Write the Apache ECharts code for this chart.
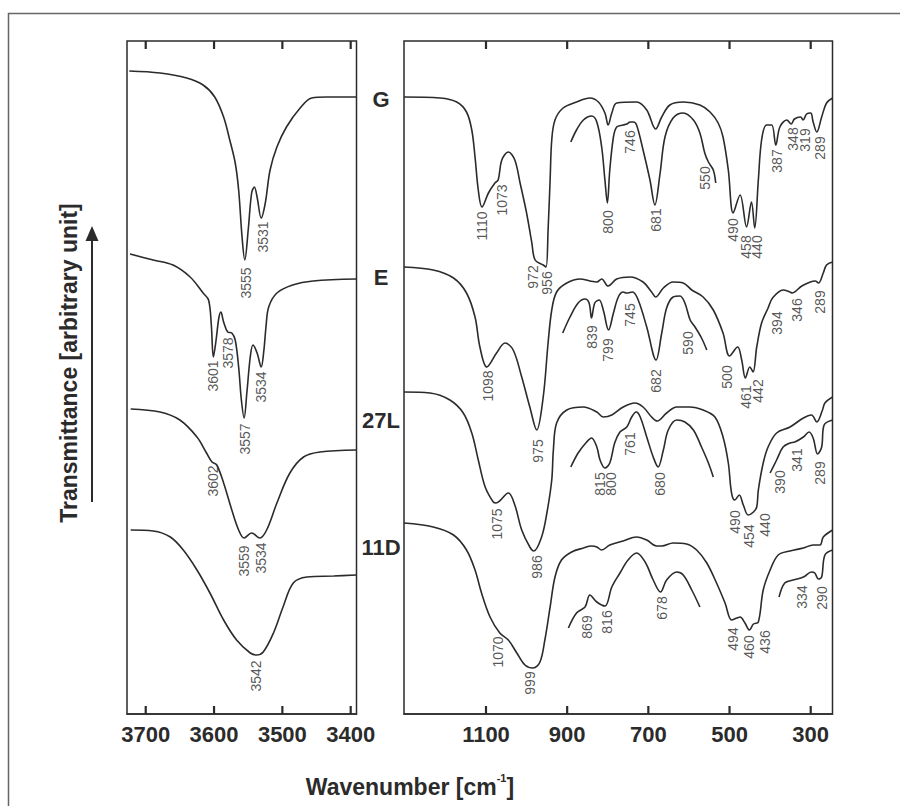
<!DOCTYPE html>
<html>
<head>
<meta charset="utf-8">
<script src="https://cdn.jsdelivr.net/npm/echarts@6/dist/echarts.min.js"></script>
<style>
html, body { margin: 0; padding: 0; background: #fff; }
#chart { width: 900px; height: 806px; }
</style>
</head>
<body>
<div id="chart"></div>
<script>
// IR spectra of the samples: OH stretching region (left) and 1300-250 cm-1 region (right)
// y = transmittance in arbitrary units, spectra are offset from each other

const samples = ['G', 'E', '27L', '11D'];
const ohTicks = [3700, 3600, 3500, 3400];
const fpTicks = [1100, 900, 700, 500, 300];

// OH region [wavenumber, transmittance]
const ohG = [[3724,659],[3679,657],[3640,652],[3616,645],[3599,633],[3586,613],[3577,590],[3569,567],[3564,540],[3559,493],[3555,470],[3550,500],[3545,537],[3541,543],[3537,533],[3531,512],[3525,527],[3518,560],[3508,583],[3494,603],[3474,622],[3457,632],[3435,633],[3392,633]];
const ohE = [[3723,476],[3689,470],[3660,465],[3635,453],[3616,437],[3608,430],[3604,405],[3601,373],[3597,390],[3593,412],[3590,418],[3586,408],[3580,398],[3574,397],[3569,390],[3564,363],[3560,330],[3556,312],[3552,337],[3547,373],[3543,385],[3537,377],[3531,363],[3527,380],[3524,403],[3520,423],[3508,437],[3485,445],[3455,449],[3392,451]];
const oh27L = [[3722,321],[3679,318],[3650,310],[3625,293],[3611,277],[3603,268],[3596,265],[3586,247],[3574,220],[3564,200],[3556,192],[3545,197],[3533,192],[3523,200],[3508,227],[3489,257],[3469,273],[3445,278],[3392,280]];
const oh11D = [[3722,200],[3689,199],[3664,193],[3645,180],[3625,160],[3606,137],[3586,110],[3567,90],[3547,77],[3538,75],[3528,78],[3513,97],[3499,123],[3484,147],[3464,153],[3425,154],[3392,155]];

// 1300-250 cm-1 region, full spectra
const fpG = [[1302,633],[1213,632],[1172,628],[1148,618],[1135,600],[1127,573],[1119,540],[1110,523],[1094,537],[1078,547],[1070,550],[1061,570],[1045,578],[1029,570],[1016,547],[1000,517],[987,487],[979,470],[959,465],[952,463],[947,500],[942,550],[938,590],[930,610],[910,622],[877,628],[844,632],[823,628],[807,617],[799,605],[790,617],[778,627],[729,628],[704,620],[682,601],[667,613],[647,625],[614,628],[573,625],[548,618],[528,607],[516,593],[503,560],[491,517],[474,535],[458,503],[446,528],[438,502],[429,550],[421,590],[409,605],[396,605],[386,585],[376,603],[359,610],[348,606],[340,611],[325,613],[319,610],[310,616],[300,617],[294,608],[285,598],[273,613],[261,627],[246,632]];
const fpE = [[1302,463],[1230,460],[1180,452],[1148,437],[1127,413],[1115,383],[1098,363],[1074,377],[1053,387],[1033,380],[1012,353],[992,323],[975,300],[959,333],[947,387],[938,420],[926,438],[901,447],[868,451],[844,449],[827,448],[815,451],[799,444],[778,451],[745,453],[713,448],[692,438],[682,433],[663,442],[639,448],[614,447],[593,440],[565,433],[540,420],[516,397],[500,374],[480,383],[470,370],[461,352],[450,363],[442,358],[433,383],[421,407],[405,422],[394,432],[368,440],[351,438],[346,437],[322,444],[301,448],[289,449],[281,447],[269,457],[261,465],[246,468]];
const fp27L = [[1302,338],[1238,337],[1189,330],[1156,317],[1135,297],[1119,270],[1102,243],[1082,228],[1075,227],[1045,237],[1029,225],[1012,200],[992,183],[982,179],[963,193],[950,217],[938,250],[934,280],[926,307],[901,320],[860,323],[827,318],[811,313],[790,315],[762,323],[733,327],[713,323],[692,313],[678,309],[655,317],[630,323],[598,323],[565,320],[536,313],[516,293],[503,267],[495,237],[487,230],[476,235],[466,225],[454,215],[441,218],[433,223],[429,240],[417,267],[405,283],[384,297],[351,303],[318,312],[298,315],[285,308],[271,320],[265,327],[246,333]];
const fp11D = [[1302,207],[1230,203],[1180,195],[1148,180],[1127,160],[1111,137],[1090,113],[1066,97],[1045,90],[1024,77],[1004,65],[984,62],[967,68],[955,90],[942,123],[930,153],[914,170],[889,178],[860,182],[840,184],[827,183],[815,180],[795,185],[762,189],[729,193],[704,190],[680,184],[667,184],[639,187],[606,186],[581,180],[556,167],[532,147],[511,127],[495,110],[482,112],[474,113],[462,107],[451,100],[441,106],[429,108],[417,140],[400,160],[380,175],[351,179],[318,182],[294,185],[277,185],[269,193],[246,200]];

// expanded traces (insets)
const insG = [[891,588],[877,600],[860,610],[840,614],[827,608],[815,583],[807,550],[801,527],[795,560],[786,593],[778,603],[762,605],[753,606],[745,608],[737,608],[729,605],[713,580],[696,550],[684,525],[671,557],[659,593],[639,612],[614,617],[589,610],[573,597],[561,577],[552,568],[540,560],[534,547]];
const insE = [[911,397],[893,413],[873,427],[856,431],[846,427],[840,412],[832,427],[821,430],[811,420],[798,400],[786,417],[774,433],[762,438],[754,437],[739,438],[725,430],[704,403],[681,370],[667,397],[655,422],[639,433],[622,434],[610,427],[597,410],[585,403],[569,392],[556,380]];
const ins27L = [[891,263],[873,277],[852,288],[840,292],[827,283],[819,270],[807,262],[795,267],[783,287],[770,298],[753,303],[741,313],[730,318],[720,313],[704,293],[688,273],[676,263],[663,280],[651,300],[630,310],[610,308],[589,300],[569,283],[552,267],[540,253]];
const ins27Llow = [[400,257],[384,270],[368,283],[351,287],[339,288],[318,293],[304,298],[294,292],[283,276],[273,283],[267,305],[246,310]];
const ins11D = [[897,102],[877,117],[856,123],[844,135],[827,128],[807,124],[790,143],[770,157],[750,170],[729,177],[708,168],[688,150],[670,138],[655,150],[630,158],[614,155],[593,140],[573,123]];
const ins11Dlow = [[378,133],[364,147],[343,150],[318,153],[298,158],[290,157],[281,151],[273,153],[265,175],[246,180]];

// band labels [wavenumber, y, text]
const ohLabels = [[3553,447,'3555'],[3529,493,'3531'],[3602,354,'3601'],[3580,377,'3578'],[3555,291,'3557'],[3531,343,'3534'],[3602,249,'3602'],[3556,169,'3559'],[3531,172,'3534'],[3538,54,'3542']];
const fpLabels = [
  [1111,504,'1110'],[1060,530,'1073'],[985,453,'972'],[949,447,'956'],[799,508,'800'],[745,588,'746'],[680,510,'681'],[561,552,'550'],[491,500,'490'],[460,483,'458'],[433,483,'440'],[384,569,'387'],[343,591,'348'],[314,590,'319'],[277,582,'289'],
  [1094,344,'1098'],[971,279,'975'],[840,393,'839'],[799,380,'799'],[744,415,'745'],[680,349,'682'],[602,387,'590'],[507,353,'500'],[460,333,'461'],[429,339,'442'],[384,407,'394'],[333,420,'346'],[277,428,'289'],
  [819,246,'815'],[792,246,'800'],[744,286,'761'],[671,246,'680'],[376,248,'390'],[333,270,'341'],[276,257,'289'],[1074,206,'1075'],[975,163,'986'],[487,208,'490'],[451,194,'454'],[413,205,'440'],
  [1070,78,'1070'],[992,47,'999'],[850,103,'869'],[803,108,'816'],[667,122,'678'],[491,91,'494'],[451,83,'460'],[413,88,'436'],[322,133,'334'],[273,132,'290']
];

const FONT = 'Liberation Sans, Arial, Helvetica, sans-serif';
const INK = '#2b2b2b';
const Y_MIN = 16, Y_MAX = 689;
const TICK_LEN = 8; // in y units (1 unit ~ 1 px here)

const chart = echarts.init(document.getElementById('chart'), null, { renderer: 'svg' });

function xAxis(gridIndex, min, max, ticks) {
  return {
    type: 'value', gridIndex, inverse: true, min, max, position: 'bottom',
    axisLine: { show: true, lineStyle: { color: INK, width: 1.5 } },
    axisTick: { show: false },
    axisLabel: { customValues: ticks, formatter: v => String(v), color: INK, fontFamily: FONT, fontSize: 22, fontWeight: 'bold', margin: 9 },
    splitLine: { show: false }
  };
}

// short inward ticks on the bottom and top frame, one broken line per panel
function tickMarks(ticks, xi, yi) {
  const data = [];
  ticks.forEach(v => {
    data.push([v, Y_MIN], [v, Y_MIN + TICK_LEN], '-');
    data.push([v, Y_MAX - TICK_LEN], [v, Y_MAX], '-');
  });
  return {
    type: 'line', data, xAxisIndex: xi, yAxisIndex: yi,
    showSymbol: false, silent: true, connectNulls: false,
    lineStyle: { color: INK, width: 2.2 }
  };
}

function curve(data, xi, yi) {
  return {
    type: 'line', data, xAxisIndex: xi, yAxisIndex: yi,
    showSymbol: false, smooth: 0.35, silent: true,
    lineStyle: { color: INK, width: 1.6 }
  };
}

function bandLabels(data, xi, yi) {
  return {
    type: 'scatter', data, xAxisIndex: xi, yAxisIndex: yi,
    symbolSize: 0, silent: true,
    label: {
      show: true, position: 'inside', rotate: 90,
      formatter: p => p.data[2],
      color: INK, fontFamily: FONT, fontSize: 14
    }
  };
}

const sampleY = [99, 277, 420, 547];

const option = {
  animation: false,
  backgroundColor: '#fff',
  grid: [
    { left: 127, top: 41, width: 229.5, height: 673, show: true, borderColor: INK, borderWidth: 1.5 },
    { left: 404, top: 41, width: 428.5, height: 673, show: true, borderColor: INK, borderWidth: 1.5 }
  ],
  xAxis: [
    xAxis(0, 3391.5, 3727.4, ohTicks),
    xAxis(1, 246.3, 1302, fpTicks)
  ],
  yAxis: [
    { type: 'value', gridIndex: 0, min: Y_MIN, max: Y_MAX, show: false },
    { type: 'value', gridIndex: 1, min: Y_MIN, max: Y_MAX, show: false }
  ],
  series: [
    curve(ohG, 0, 0), curve(ohE, 0, 0), curve(oh27L, 0, 0), curve(oh11D, 0, 0),
    curve(fpG, 1, 1), curve(fpE, 1, 1), curve(fp27L, 1, 1), curve(fp11D, 1, 1),
    curve(insG, 1, 1), curve(insE, 1, 1), curve(ins27L, 1, 1), curve(ins27Llow, 1, 1),
    curve(ins11D, 1, 1), curve(ins11Dlow, 1, 1),
    bandLabels(ohLabels, 0, 0),
    bandLabels(fpLabels, 1, 1),
    tickMarks(ohTicks, 0, 0),
    tickMarks(fpTicks, 1, 1)
  ],
  graphic: [
    { type: 'polyline', shape: { points: [[8.5, 806], [8.5, 13.5], [900, 13.5]] }, style: { stroke: '#666', lineWidth: 1.5, fill: null } },
    { type: 'line', shape: { x1: 92, y1: 502, x2: 92, y2: 238 }, style: { stroke: INK, lineWidth: 2 } },
    { type: 'polygon', shape: { points: [[92, 226], [85.5, 241], [98.5, 241]] }, style: { fill: INK } },
    {
      type: 'text', x: 69, y: 363, rotation: Math.PI / 2,
      style: { text: 'Transmittance [arbitrary unit]', font: 'bold 23px ' + FONT, fill: INK, align: 'center', verticalAlign: 'middle', textAlign: 'center', textVerticalAlign: 'middle' }
    },
    {
      type: 'text', x: 410, y: 785,
      style: {
        text: '{a|Wavenumber [cm}{s|-1}{a|]}',
        rich: {
          a: { font: 'bold 23px ' + FONT, fill: INK, color: INK, lineHeight: 26, verticalAlign: 'bottom' },
          s: { font: 'bold 11px ' + FONT, fill: INK, color: INK, lineHeight: 26, verticalAlign: 'top' }
        },
        align: 'center', verticalAlign: 'middle', textAlign: 'center', textVerticalAlign: 'middle'
      }
    },
    ...samples.map((s, i) => ({
      type: 'text', x: 381, y: sampleY[i],
      style: { text: s, font: 'bold 22px ' + FONT, fill: INK, align: 'center', verticalAlign: 'middle', textAlign: 'center', textVerticalAlign: 'middle' }
    }))
  ]
};

chart.setOption(option);
</script>
</body>
</html>
